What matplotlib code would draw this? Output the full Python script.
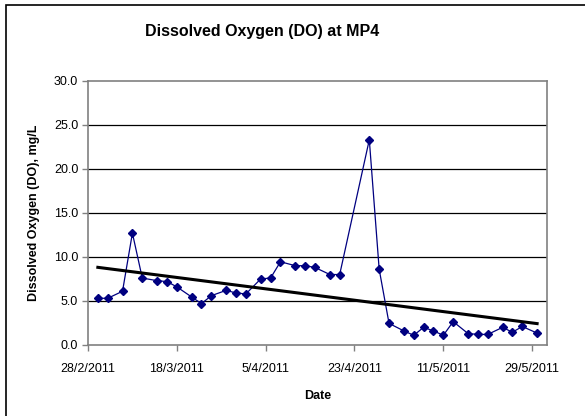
import matplotlib
matplotlib.use("Agg")
import matplotlib.pyplot as plt
import matplotlib.dates as mdates
from matplotlib.ticker import FuncFormatter
from matplotlib.patches import Rectangle
import numpy as np
import pandas as pd

# Sampling dates and dissolved oxygen readings at MP4
dates = ["2011-03-02", "2011-03-04", "2011-03-07", "2011-03-09", "2011-03-11",
         "2011-03-14", "2011-03-16", "2011-03-18", "2011-03-21", "2011-03-23",
         "2011-03-25", "2011-03-28", "2011-03-30", "2011-04-01", "2011-04-04",
         "2011-04-06", "2011-04-08", "2011-04-11", "2011-04-13", "2011-04-15",
         "2011-04-18", "2011-04-20", "2011-04-26", "2011-04-28", "2011-04-30",
         "2011-05-03", "2011-05-05", "2011-05-07", "2011-05-09", "2011-05-11",
         "2011-05-13", "2011-05-16", "2011-05-18", "2011-05-20", "2011-05-23",
         "2011-05-25", "2011-05-27", "2011-05-30"]
do_values = [5.3, 5.3, 6.1, 12.7, 7.6, 7.3, 7.2, 6.6, 5.45, 4.7,
             5.6, 6.2, 5.9, 5.8, 7.5, 7.6, 9.45, 9.0, 9.0, 8.8,
             8.0, 8.0, 23.3, 8.6, 2.45, 1.6, 1.1, 2.0, 1.6, 1.1,
             2.65, 1.3, 1.2, 1.2, 2.0, 1.45, 2.1, 1.35]
tick_dates = ["2011-02-28", "2011-03-18", "2011-04-05", "2011-04-23",
              "2011-05-11", "2011-05-29"]
y_ticks = [0, 5, 10, 15, 20, 25, 30]

x = pd.to_datetime(dates)
xn = mdates.date2num(x)
y = np.array(do_values)

# Linear trend line over the sampled period
coef = np.polyfit(xn, y, 1)
trend = np.polyval(coef, xn[[0, -1]])

plt.rcParams["font.family"] = ["Liberation Sans", "DejaVu Sans"]
fig = plt.figure(figsize=(5.85, 4.16), dpi=100)
ax = fig.add_axes([0.1504, 0.1707, 0.935 - 0.1504, 0.806 - 0.1707])

for v in y_ticks[1:-1]:
    ax.axhline(v, color="black", lw=0.9, zorder=1)

ax.plot(x, y, color="#000080", lw=0.9, marker="D", markersize=4,
        markerfacecolor="#000080", markeredgecolor="#000080", zorder=3)
ax.plot(x[[0, -1]], trend, color="black", lw=2.2, zorder=4)

ax.set_ylim(0, 30)
ax.set_yticks(y_ticks)
ax.yaxis.set_major_formatter(FuncFormatter(lambda v, p: f"{v:.1f}"))
ax.set_xlim(mdates.date2num(pd.Timestamp("2011-02-28")),
            mdates.date2num(pd.Timestamp("2011-06-01")))
ax.set_xticks(mdates.date2num(pd.to_datetime(tick_dates)))
ax.xaxis.set_major_formatter(FuncFormatter(
    lambda v, p: (lambda d: f"{d.day}/{d.month}/{d.year}")(mdates.num2date(v))))

for s in ax.spines.values():
    s.set_color("#808080")
    s.set_linewidth(1.2)
ax.tick_params(axis="both", direction="out", length=4, width=1,
               color="#808080", labelsize=9, labelcolor="black")
ax.tick_params(axis="x", pad=9)
ax.tick_params(axis="y", pad=3)

ax.set_xlabel("Date", fontsize=9, fontweight="bold", labelpad=11)
ax.set_ylabel("Dissolved Oxygen (DO), mg/L", fontsize=9, fontweight="bold",
              labelpad=10)
fig.text(0.448, 0.925, "Dissolved Oxygen (DO) at MP4", ha="center",
         va="center", fontsize=11.5, fontweight="bold")

# Chart area frame
fig.patches.append(Rectangle((6 / 585, -0.05), 1.2, 1.05 - 4.5 / 416,
                             transform=fig.transFigure, fill=False,
                             edgecolor="black", lw=1.2))

fig.savefig("out.png", dpi=100)
